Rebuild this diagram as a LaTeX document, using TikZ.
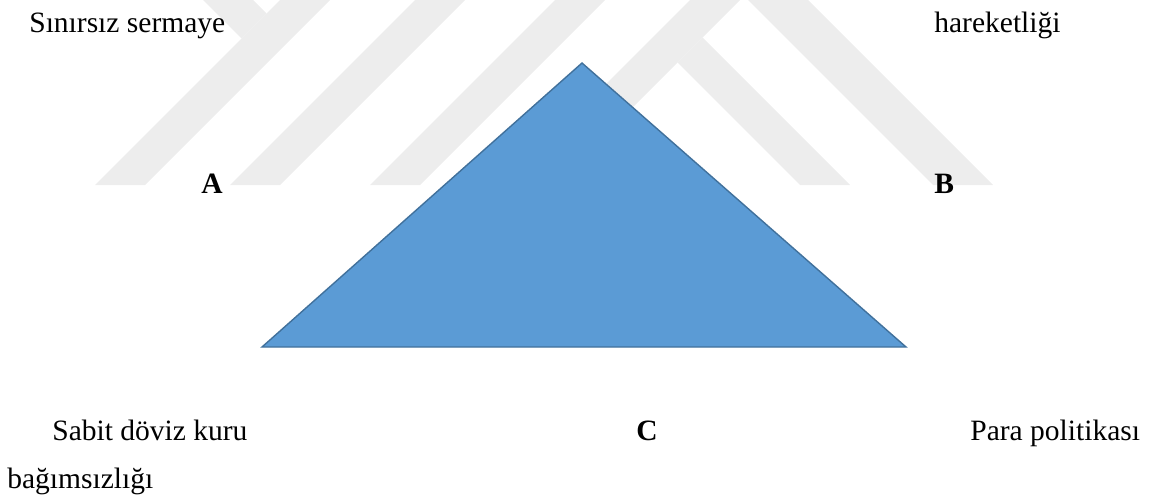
\documentclass[tikz,border=0pt]{standalone}
\usepackage{fontspec}
\setmainfont{Liberation Serif}
\definecolor{wm}{HTML}{EDEDED}
\definecolor{tri}{HTML}{5B9BD5}
\definecolor{triedge}{HTML}{41719C}

\begin{document}
\begin{tikzpicture}[
  x=0.02cm, y=-0.02cm,
  font=\fontsize{16.8}{20}\selectfont,
  lab/.style={anchor=base west, inner sep=0pt},
  corner/.style={lab, font=\fontsize{16.8}{20}\selectfont\bfseries},
  band/.style={fill=wm, draw=none}
]
\useasboundingbox (0,0) rectangle (1155,501);
% watermark
\fill[band] (203,0) -- (253,0) -- (266.5,13.5) -- (241.5,38.5) -- cycle;
\foreach \a in {280,415,555,690} {
  \fill[band] (\a,0) -- ++(50,0) -- ++(-185,185) -- ++(-50,0) -- cycle;
}
\fill[band] (677.5,62.5) -- (702.5,37.5) -- (850,185) -- (800,185) -- cycle;
\fill[band] (748,0) -- (808,0) -- (993,185) -- (933,185) -- cycle;
% triangle
\coordinate (apex) at (582,63);
\coordinate (bl) at (262,347);
\coordinate (br) at (906,347);
\filldraw[fill=tri, draw=triedge, line width=0.8pt] (apex) -- (br) -- (bl) -- cycle;
% labels
\node[lab] (cap1) at (29,32) {Sınırsız sermaye};
\node[lab] (cap2) at (934,32) {hareketliği};
\node[corner] (A) at (201,193) {A};
\node[corner] (B) at (934,193) {B};
\node[lab] (fix) at (52,440) {Sabit döviz kuru};
\node[corner] (C) at (636,440) {C};
\node[lab] (pol) at (970,440) {Para politikası};
\node[lab] (ind) at (7,488) {bağımsızlığı};
\end{tikzpicture}
\end{document}
